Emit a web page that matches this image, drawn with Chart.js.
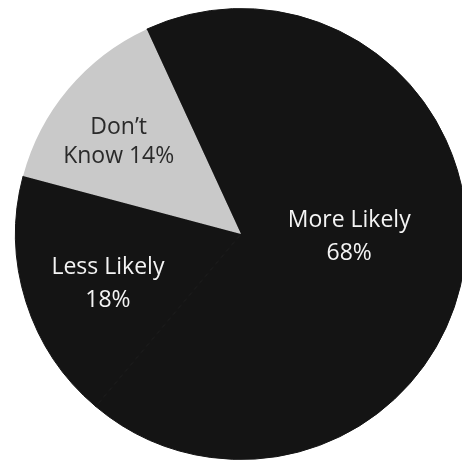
<!DOCTYPE html>
<html>
<head>
<meta charset="utf-8">
<script src="https://cdn.jsdelivr.net/npm/chart.js@4.4.1/dist/chart.umd.min.js"></script>
<style>
  html, body { margin: 0; padding: 0; background: #fff; overflow: hidden; }
  #wrap { position: relative; width: 482px; height: 463px; }
</style>
</head>
<body>
<div id="wrap"><canvas id="myChart"></canvas></div>
<script>
// answers, in percent
const categories = ['More Likely', 'Less Likely', 'Don\u2019t\nKnow'];
const values = [68, 18, 14];
const sliceColors = ['#141414', '#141414', '#c9c9c9'];
const textColors = ['#f4f4f4', '#f4f4f4', '#2a2a2a'];
// how the percent joins the name
const joiners = ['\n', '\n', ' '];
// where the label sits: share of the radius, and a small turn in degrees
const labelRadius = [0.48, 0.63, 0.68];
const labelTurn = [-6, -3, -3];

const labelPlugin = {
	id: 'sliceLabels',
	afterDatasetsDraw(chart) {
		const ctx = chart.ctx;
		const arcs = chart.getDatasetMeta(0).data;
		ctx.save();
		ctx.font = '23px "Open Sans", sans-serif';
		ctx.textAlign = 'center';
		ctx.textBaseline = 'middle';
		arcs.forEach(function(arc, i) {
			const p = arc.getProps(['x', 'y', 'startAngle', 'endAngle', 'outerRadius'], true);
			const mid = (p.startAngle + p.endAngle) / 2 + labelTurn[i] * Math.PI / 180;
			const r = p.outerRadius * labelRadius[i];
			const cx = p.x + Math.cos(mid) * r;
			const cy = p.y + Math.sin(mid) * r;
			const lines = (categories[i] + joiners[i] + values[i] + '%').split('\n');
			const lh = i == 2 ? 29 : 33;
			ctx.fillStyle = textColors[i];
			for (let k = 0; k < lines.length; k++) {
				ctx.fillText(lines[k], cx, cy + (k - (lines.length - 1) / 2) * lh);
			}
		});
		ctx.restore();
	}
};

let ctx = document.getElementById('myChart').getContext('2d');
let myChart = new Chart(ctx, {
	type: 'pie',
	data: {
		labels: categories,
		datasets: [{
			data: values,
			backgroundColor: sliceColors,
			borderColor: sliceColors,
			borderWidth: [1, 1, 0]
		}]
	},
	options: {
		responsive: true,
		maintainAspectRatio: false,
		animation: false,
		rotation: -24.7,
		layout: { padding: { top: 8, bottom: 3, left: 0, right: 0 } },
		plugins: {
			legend: { display: false },
			tooltip: { enabled: false }
		}
	},
	plugins: [labelPlugin]
});
</script>
</body>
</html>
